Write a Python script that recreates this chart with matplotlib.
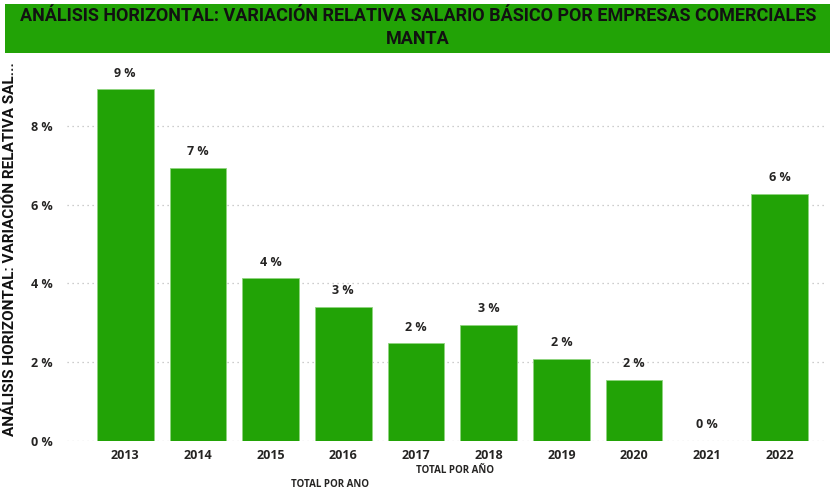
import matplotlib.pyplot as plt
from matplotlib.patches import Rectangle

# datos
anios = ['2013', '2014', '2015', '2016', '2017', '2018', '2019', '2020', '2021', '2022']
variacion = [8.94, 6.94, 4.13, 3.40, 2.47, 2.95, 2.08, 1.54, 0.0, 6.28]
etiquetas = ['9 %', '7 %', '4 %', '3 %', '2 %', '3 %', '2 %', '2 %', '0 %', '6 %']
y_ticks = [0, 2, 4, 6, 8]
y_ticklabels = ['0 %', '2 %', '4 %', '6 %', '8 %']

verde = '#22a306'
texto = '#252423'

plt.rcParams['font.family'] = ['Open Sans', 'DejaVu Sans']

fig = plt.figure(figsize=(8.3, 4.9), dpi=100)

# banda del titulo
fig.patches.append(Rectangle((5 / 830, 1 - 53 / 490), 825 / 830, 49 / 490,
                             transform=fig.transFigure, facecolor=verde,
                             edgecolor='none', zorder=0))
fig.text(418 / 830, 1 - 16 / 490, 'ANÁLISIS HORIZONTAL: VARIACIÓN RELATIVA SALARIO BÁSICO POR EMPRESAS COMERCIALES',
         ha='center', va='center', fontsize=13, fontweight='bold', color='#111111',
         family=['Roboto', 'DejaVu Sans'])
fig.text(418 / 830, 1 - 39 / 490, 'MANTA',
         ha='center', va='center', fontsize=13, fontweight='bold', color='#111111',
         family=['Roboto', 'DejaVu Sans'])

ax = fig.add_axes([67 / 830, 49.5 / 490, 759 / 830, 370.5 / 490])
x = range(len(anios))
ax.bar(x, variacion, width=0.78, color=verde, edgecolor='#8fd47f', linewidth=0.6, zorder=3)

for i, (v, lab) in enumerate(zip(variacion, etiquetas)):
    ax.annotate(lab, (i, v), xytext=(0, 7), textcoords='offset points',
                ha='center', va='bottom', fontsize=9, fontweight='bold', color=texto)

ax.set_xlim(-0.80, 9.64)
ax.set_ylim(0, 9.43)
ax.set_yticks(y_ticks)
ax.set_yticklabels(y_ticklabels)
ax.set_xticks(list(x))
ax.set_xticklabels(anios)
ax.tick_params(length=0, labelsize=9, labelcolor=texto, pad=6)
ax.tick_params(axis='y', pad=10)
for t in ax.get_xticklabels() + ax.get_yticklabels():
    t.set_fontweight('bold')
ax.yaxis.grid(True, linestyle=(0, (1, 3)), color='#bdbdbd', linewidth=0.9, zorder=0)
for s in ax.spines.values():
    s.set_visible(False)

ax.set_xlabel('TOTAL POR AÑO', fontsize=7, fontweight='bold', color=texto, labelpad=2)
ax.xaxis.set_label_coords((455 - 67) / 759, -0.065)
ax.set_ylabel('ANÁLISIS HORIZONTAL: VARIACIÓN RELATIVA SAL...', fontsize=11,
              fontweight='bold', color='#111111', family=['Roboto', 'DejaVu Sans'])
ax.yaxis.set_label_coords(-(67 - 17) / 759, (440.5 - 249) / 370.5)

fig.text(330 / 830, 1 - 484 / 490, 'TOTAL POR ANO', ha='center', va='center',
         fontsize=7, fontweight='bold', color=texto)

fig.savefig('out.png', dpi=100)
